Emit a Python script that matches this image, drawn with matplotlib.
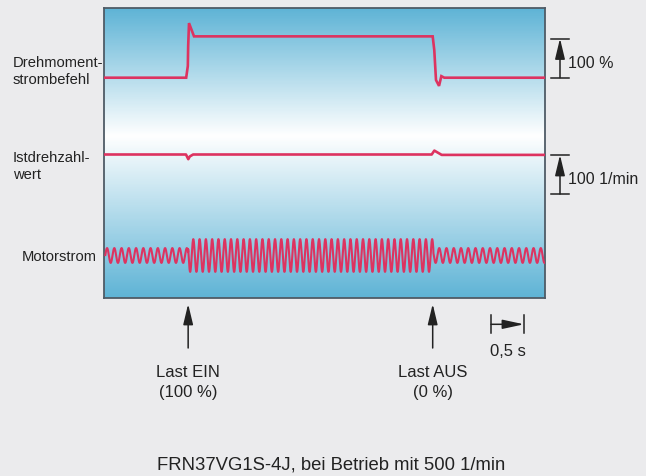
import numpy as np
import matplotlib
matplotlib.use("Agg")
import matplotlib.pyplot as plt
from matplotlib import font_manager, transforms
from matplotlib.colors import LinearSegmentedColormap
from matplotlib.patches import FancyArrowPatch

# ---------------- data ----------------
# Torque current command (% of rated), time in s
torque_t = [0.0, 1.245, 1.27, 1.275, 1.288, 1.364, 4.98, 5.004, 5.03, 5.076, 5.111, 5.156, 6.674]
torque_v = [0.0, 0.0, 30.0, 80.0, 140.0, 106.0, 106.0, 71.0, -6.0, -21.0, 4.0, 0.0, 0.0]

# Actual speed deviation (1/min) around 500 1/min
speed_t = [0.0, 1.242, 1.277, 1.30, 1.35, 4.965, 5.005, 5.116, 6.674]
speed_v = [0.0, 0.0, -12.0, -5.0, 0.0, 0.0, 10.0, -1.0, -1.0]

# Motor current: segments (start, end), amplitude (% scale), frequency (Hz)
current_seg_start = [0.02, 1.275, 4.99]
current_seg_end = [1.275, 4.99, 6.674]
current_amp = [19.0, 42.0, 19.0]
current_freq = [9.1, 10.5, 9.1]

load_on_t = 1.275
load_off_t = 4.98
scale_time = 0.5

labels_left = [("Drehmoment-", "strombefehl"), ("Istdrehzahl-", "wert"), ("Motorstrom",)]
caption = "FRN37VG1S-4J, bei Betrieb mit 500 1/min"

# ---------------- style ----------------
W, H = 646, 476
BG = "#ebebed"
RED = "#dd3360"
INK = "#222222"
T_END = 6.674
PX_PER_PCT = 0.39          # vertical px per % / per 1/min
TORQUE_BASE = 220.6
SPEED_BASE = 143.8
CURRENT_BASE = 42.8
BOX = (104, 8.5, 544.5, 298.3)  # left, top, right, bottom (pixels)

def has_font(name):
    try:
        font_manager.findfont(font_manager.FontProperties(family=name), fallback_to_default=False)
        return True
    except Exception:
        return False

REG = "Liberation Sans" if has_font("Liberation Sans") else "DejaVu Sans"
NARROW = "Liberation Sans Narrow" if has_font("Liberation Sans Narrow") else None

fig = plt.figure(figsize=(W / 100, H / 100), dpi=100, facecolor=BG)

l, t, r, b = BOX
ax = fig.add_axes([l / W, 1 - b / H, (r - l) / W, (b - t) / H])
box_h = b - t
ax.set_xlim(0, T_END)
ax.set_ylim(0, box_h)

cmap = LinearSegmentedColormap.from_list(
    "g", [(0.0, "#5fb4d6"), (0.44, "#ffffff"), (1.0, "#5fb4d6")])
grad = np.linspace(0, 1, 300).reshape(-1, 1)
ax.imshow(grad, cmap=cmap, aspect="auto", extent=[0, T_END, 0, box_h],
          origin="upper", interpolation="bilinear", zorder=0)
for s in ax.spines.values():
    s.set_color("#4f5b66")
    s.set_linewidth(1.3)
ax.set_xticks([])
ax.set_yticks([])

# torque
ax.plot(torque_t, TORQUE_BASE + np.array(torque_v) * PX_PER_PCT,
        color=RED, lw=1.9, solid_joinstyle="miter", zorder=3)
# speed
ax.plot(speed_t, SPEED_BASE + np.array(speed_v) * PX_PER_PCT,
        color=RED, lw=1.9, zorder=3)
# motor current
tt = np.linspace(current_seg_start[0], current_seg_end[-1], 6000)
amp = np.zeros_like(tt)
freq = np.zeros_like(tt)
for s0, s1, a, f in zip(current_seg_start, current_seg_end, current_amp, current_freq):
    m = (tt >= s0) & (tt <= s1)
    amp[m] = a
    freq[m] = f
phase = np.cumsum(2 * np.pi * freq * np.gradient(tt))
ax.plot(tt, CURRENT_BASE + amp * PX_PER_PCT * np.sin(phase),
        color=RED, lw=1.5, zorder=3)

# overlay axes in pixel coords for annotations
ov = fig.add_axes([0, 0, 1, 1], facecolor="none")
ov.set_xlim(0, W)
ov.set_ylim(H, 0)
ov.axis("off")

def arrow(x0, y0, x1, y1, hl, hw, transform=None):
    p = FancyArrowPatch((x0, y0), (x1, y1),
                        arrowstyle=f"-|>,head_length={hl},head_width={hw}",
                        mutation_scale=10, color=INK, lw=1.1,
                        shrinkA=0, shrinkB=0,
                        transform=transform if transform is not None else ov.transData)
    ov.add_patch(p)

# left labels
lab_kw = dict(color=INK, va="baseline")
if NARROW:
    lab_kw.update(family=NARROW, fontsize=12.6)
else:
    lab_kw.update(family=REG, fontsize=10.6)
ov.text(13, 67.3, labels_left[0][0], ha="left", **lab_kw)
ov.text(13, 84.0, labels_left[0][1], ha="left", **lab_kw)
ov.text(13, 162.3, labels_left[1][0], ha="left", **lab_kw)
ov.text(13, 178.6, labels_left[1][1], ha="left", **lab_kw)
ov.text(97, 260.7, labels_left[2][0], ha="right", **lab_kw)

# right scale bars
def vbar(y_bottom, y_top, label, ylab):
    xc = 560
    ov.plot([551, 569], [y_top, y_top], color=INK, lw=1.1)
    ov.plot([551, 569], [y_bottom, y_bottom], color=INK, lw=1.1)
    arrow(xc, y_bottom, xc, y_top, 1.25, 0.30)
    ov.text(568, ylab, label, family=REG, fontsize=11.5, color=INK,
            ha="left", va="baseline")

vbar(77.7, 38.5, "100 %", 68.3)
vbar(194.0, 155.0, "100 1/min", 184.0)

# load arrows (x from time axis)
blend = transforms.blended_transform_factory(ax.transData, ov.transData)
for tl, l1, l2 in [(load_on_t, "Last EIN", "(100 %)"), (load_off_t, "Last AUS", "(0 %)")]:
    arrow(tl, 348, tl, 304, 1.25, 0.30, transform=blend)
    ov.text(tl, 377.3, l1, family=REG, fontsize=12, color=INK, ha="center",
            va="baseline", transform=blend)
    ov.text(tl, 397.3, l2, family=REG, fontsize=12, color=INK, ha="center",
            va="baseline", transform=blend)

# time scale bar 0,5 s
x0 = 491
x1 = x0 + scale_time * (r - l) / T_END
ov.plot([x0, x0], [315, 333], color=INK, lw=1.1)
ov.plot([x1, x1], [315, 333], color=INK, lw=1.1)
arrow(x0, 324.3, x1, 324.3, 1.3, 0.28)
ov.text((x0 + x1) / 2, 355.7, "0,5 s", family=REG, fontsize=12, color=INK,
        ha="center", va="baseline")

# caption
ov.text(331.3, 470, caption, family=REG, fontsize=13.3, color=INK,
        ha="center", va="baseline")

fig.savefig("out.png", dpi=100, facecolor=BG)
